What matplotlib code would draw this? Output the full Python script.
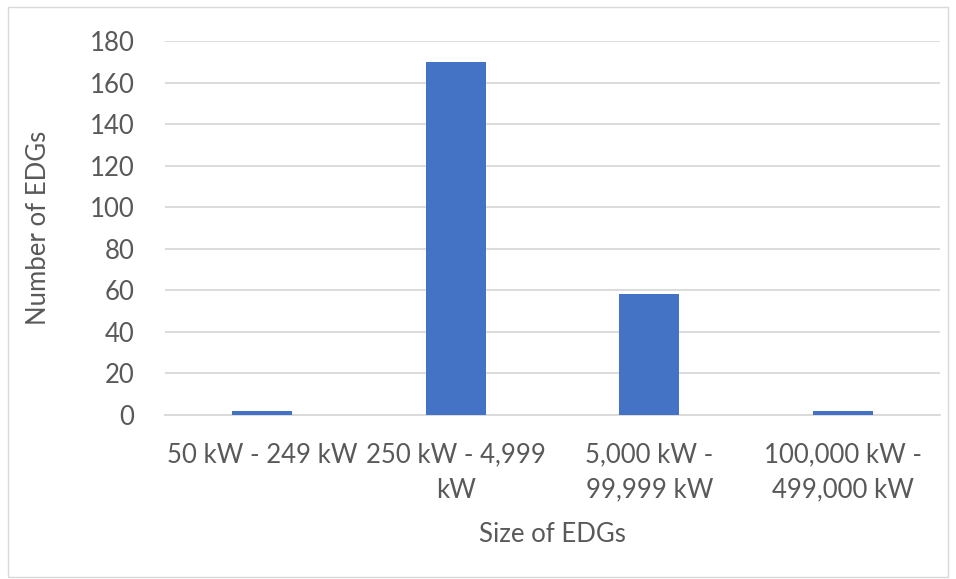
import matplotlib
matplotlib.use("Agg")
import matplotlib.pyplot as plt
from matplotlib.patches import Rectangle

categories = ["50 kW - 249 kW", "250 kW - 4,999\nkW", "5,000 kW -\n99,999 kW", "100,000 kW -\n499,000 kW"]
values = [2, 170, 58, 2]
yticks = list(range(0, 181, 20))

plt.rcParams['font.family'] = ['Lato', 'DejaVu Sans']
W, H = 956, 579
fig = plt.figure(figsize=(W/100, H/100), dpi=100)
fig.patches.append(Rectangle((8/W, 2/H), (W-8)/W - 8/W, 1 - 9/H, transform=fig.transFigure,
                             fill=False, edgecolor='#D9D9D9', linewidth=1))
ax = fig.add_axes([165/W, 1 - 415/H, (940-165)/W, (415-41)/H])
x = range(len(categories))
ax.bar(x, values, width=0.31, color='#4472C4', zorder=3)
ax.set_xlim(-0.5, 3.5)
ax.set_ylim(0, 180)
ax.set_yticks(yticks)
ax.yaxis.grid(True, color='#D9D9D9', linewidth=1.3, zorder=0)
for s in ['top', 'right', 'left']:
    ax.spines[s].set_visible(False)
ax.spines['bottom'].set_color('#D9D9D9')
ax.spines['bottom'].set_linewidth(1.3)
ax.tick_params(axis='both', length=0, labelsize=18.5, labelcolor='#595959')
ax.tick_params(axis='y', pad=22)
ax.tick_params(axis='x', pad=20)
ax.set_xticks(list(x))
ax.set_xticklabels(categories, linespacing=1.5)
ax.set_ylabel("Number of EDGs", fontsize=18.5, color='#595959', labelpad=28)
ax.set_xlabel("Size of EDGs", fontsize=18.5, color='#595959', labelpad=14)
fig.savefig("out.png", dpi=100)
